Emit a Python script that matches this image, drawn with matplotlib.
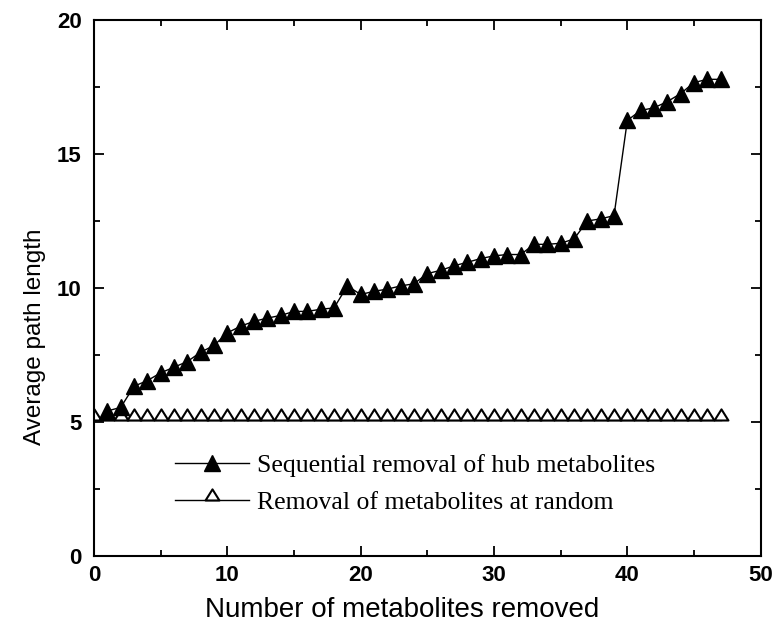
import matplotlib
matplotlib.use("Agg")
import matplotlib.pyplot as plt
from matplotlib.path import Path
import numpy as np

# Data
hub_x = list(range(1, 48))
hub_y = [5.42, 5.55, 6.34, 6.55, 6.84, 7.05, 7.26, 7.61, 7.86, 8.33,
         8.58, 8.76, 8.88, 8.98, 9.13, 9.13, 9.21, 9.26, 10.08, 9.76,
         9.88, 9.96, 10.08, 10.16, 10.54, 10.66, 10.83, 10.96, 11.10, 11.20,
         11.25, 11.25, 11.63, 11.63, 11.67, 11.83, 12.50, 12.58, 12.70, 16.25,
         16.62, 16.72, 16.95, 17.25, 17.66, 17.78, 17.78]
rand_x = list(range(0, 48))
rand_y = [5.1] * 48

x_ticks = [0, 10, 20, 30, 40, 50]
y_ticks = [0, 5, 10, 15, 20]

label_hub = "Sequential removal of hub metabolites"
label_rand = "Removal of metabolites at random"

fig = plt.figure(figsize=(7.77, 6.38), dpi=100)
ax = fig.add_axes([0.121, 0.128, 0.858, 0.841])

# Triangle marker whose base sits on the data point
base_tri = Path([(-1, 0), (1, 0), (0, 1.6), (-1, 0)],
                [Path.MOVETO, Path.LINETO, Path.LINETO, Path.CLOSEPOLY])

ax.plot(rand_x, rand_y, color="black", lw=1.0, marker=base_tri, ms=16,
        mfc="white", mec="black", mew=1.5, label=label_rand, zorder=2)
ax.plot(hub_x, hub_y, color="black", lw=1.0, marker="^", ms=11.5,
        mfc="black", mec="black", label=label_hub, zorder=3)

ax.set_xlim(0, 50)
ax.set_ylim(0, 20)
ax.set_xticks(x_ticks)
ax.set_yticks(y_ticks)
ax.set_xticks(np.arange(5, 50, 10), minor=True)
ax.set_yticks(np.arange(2.5, 20, 5), minor=True)
ax.tick_params(which="both", direction="in", top=True, right=True, width=1.3)
ax.tick_params(which="major", length=7, labelsize=16)
ax.tick_params(axis="y", which="major", pad=9)
ax.tick_params(axis="x", which="major", pad=6)
ax.tick_params(which="minor", length=4)
for t in ax.get_xticklabels() + ax.get_yticklabels():
    t.set_fontfamily("Liberation Sans")
    t.set_fontweight("bold")
for s in ax.spines.values():
    s.set_linewidth(1.5)

ax.set_xlabel("Number of metabolites removed", fontsize=20,
              family="Liberation Sans")
ax.set_ylabel("Average path length", fontsize=17.5,
              family="Liberation Sans")
ax.xaxis.set_label_coords(0.462, -0.076)
ax.yaxis.set_label_coords(-0.072, 0.41)

handles, labels = ax.get_legend_handles_labels()
leg = ax.legend(handles[::-1], labels[::-1], loc="center left",
                bbox_to_anchor=(0.121, 0.135), frameon=False,
                borderaxespad=0, borderpad=0,
                prop={"family": "Liberation Serif", "size": 18.5},
                handlelength=2.9, handletextpad=0.32, labelspacing=0.55)

fig.savefig("out.png", dpi=100)
